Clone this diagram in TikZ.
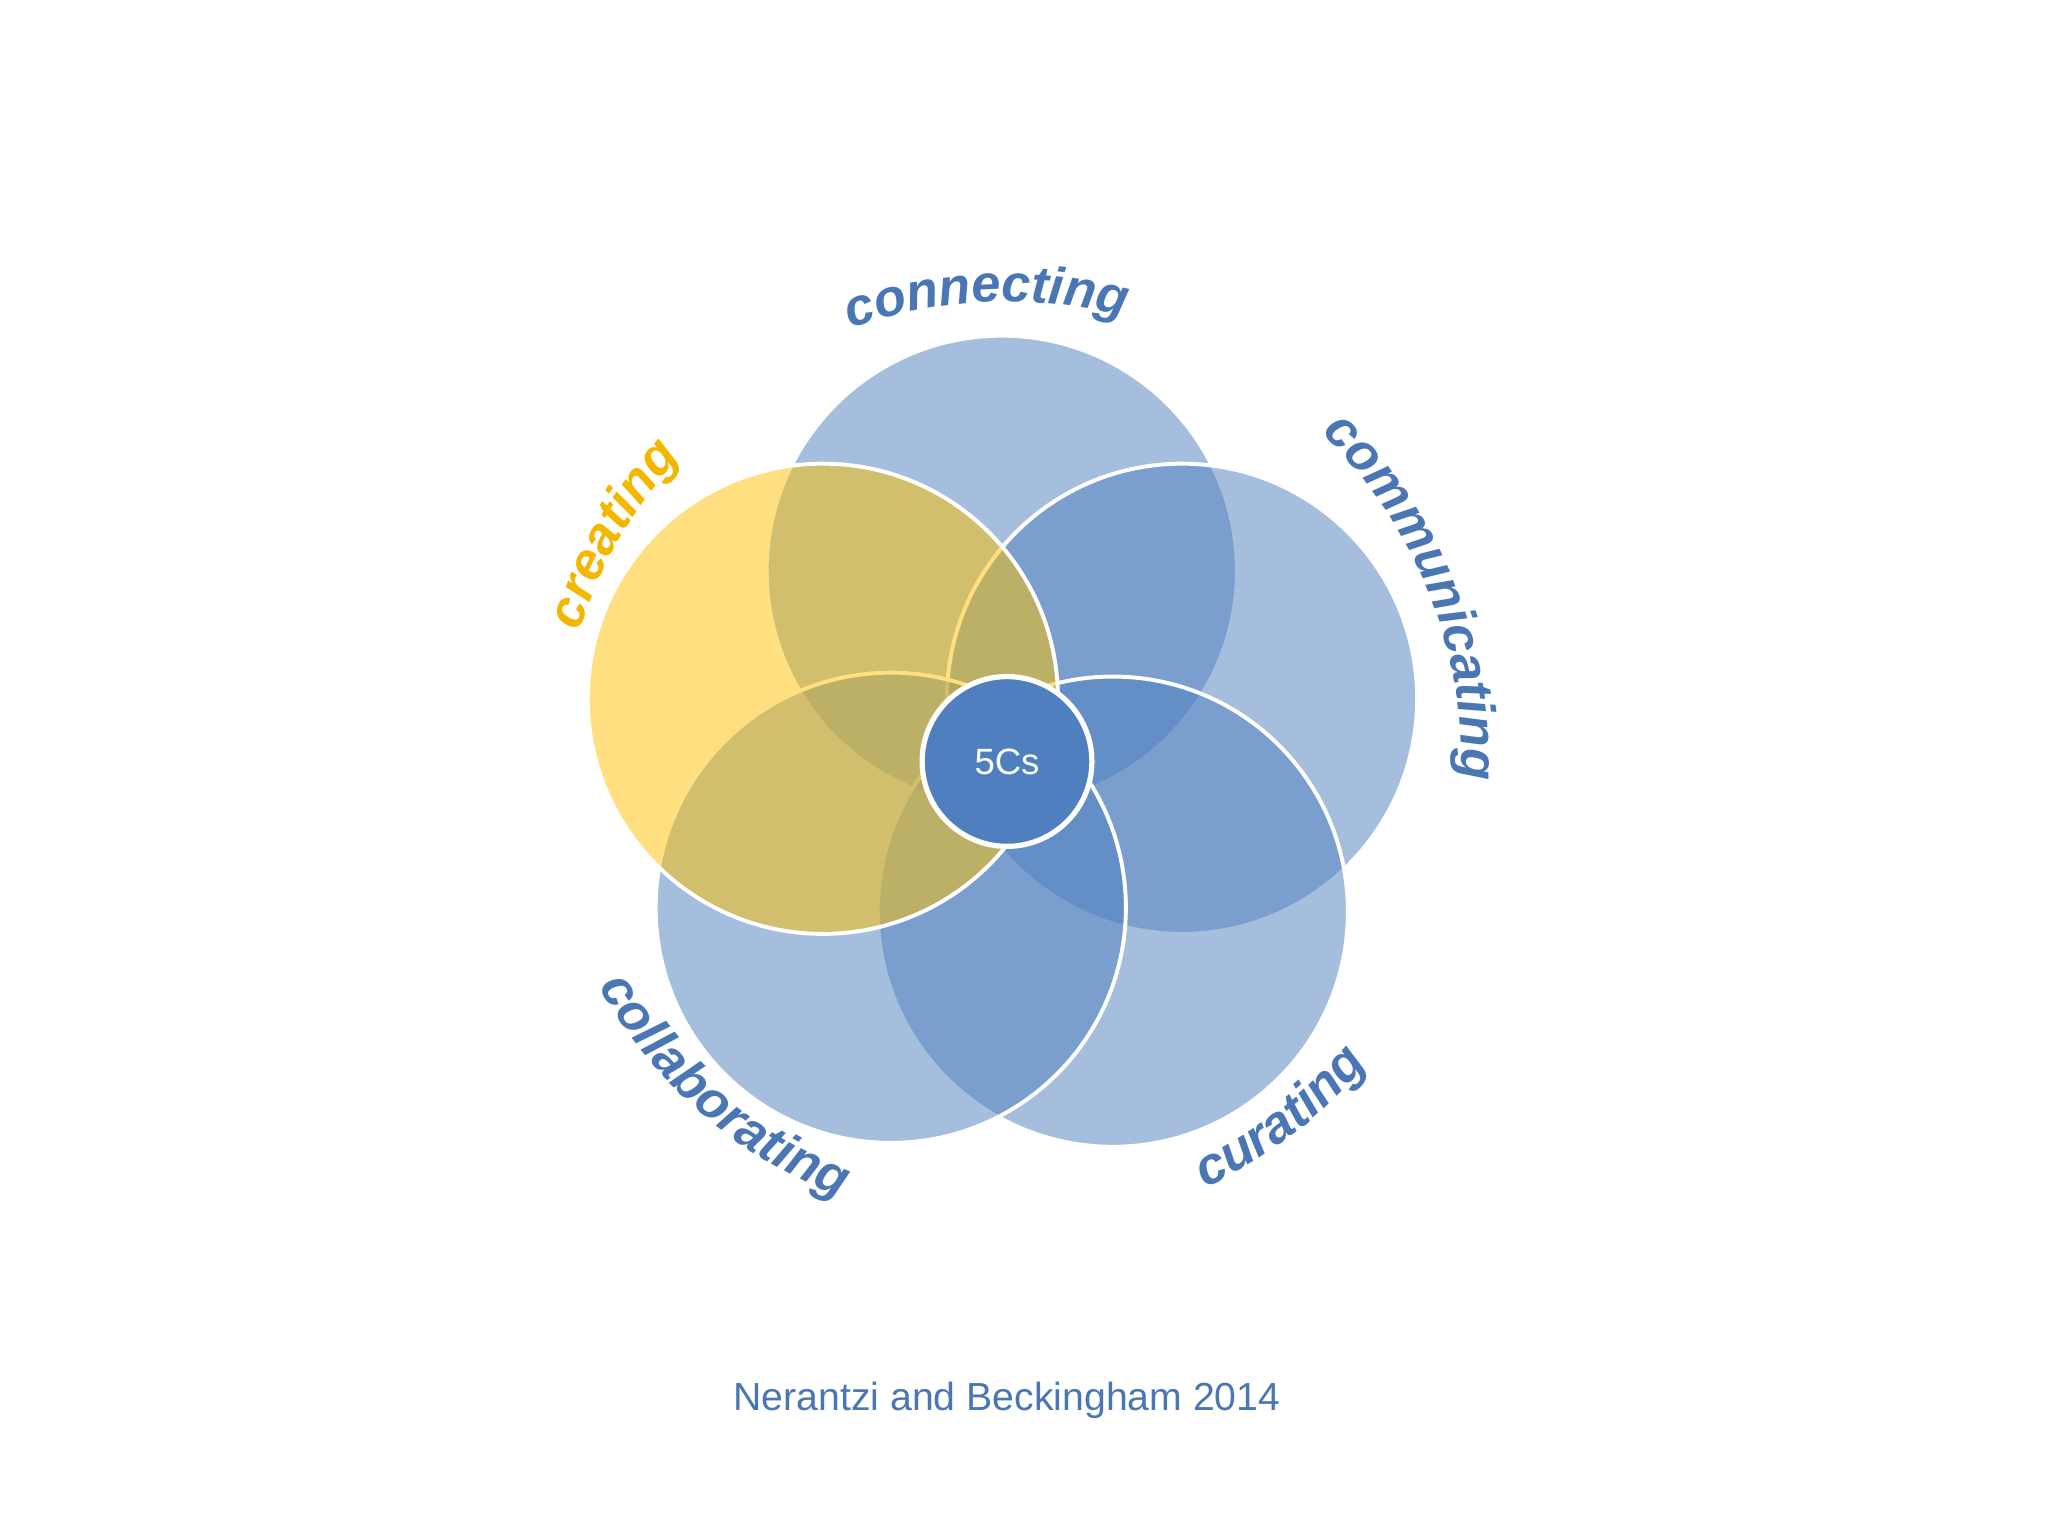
\documentclass[tikz,border=0pt]{standalone}
\usepackage{fontspec}
\setmainfont{Liberation Sans}
\usetikzlibrary{decorations.text}
\definecolor{cblue}{HTML}{4F7FBF}
\definecolor{cyel}{HTML}{FFC000}
\definecolor{tblue}{HTML}{4A77B4}
\definecolor{tyel}{HTML}{F3B700}
\newcommand{\labfont}{\fontsize{40}{40}\selectfont\bfseries\itshape}
\tikzset{
  petal/.style={circle, minimum size=360pt, inner sep=0pt, fill opacity=0.5, draw=white, line width=3pt, draw opacity=1},
  blab/.style={decorate, decoration={text along path, text align=center, text color=tblue}},
}
\begin{document}
\begin{tikzpicture}[x=1pt,y=1pt]
\useasboundingbox[fill=white] (-771,583) rectangle (797,-593);
\node[petal, fill=cblue] (connecting) at (-4,146) {};
\node[petal, fill=cblue] (communicating) at (134,48) {};
\node[petal, fill=cblue] (curating) at (81,-115) {};
\node[petal, fill=cblue] (collaborating) at (-89,-112) {};
\node[petal, fill=cyel] (creating) at (-141,48) {};
\node[circle, minimum size=130pt, inner sep=0pt, fill=cblue, draw=white, line width=4pt, text=white, font=\fontsize{28}{28}\selectfont] (c5) at (0,0) {5Cs};
\path[blab, decoration={text={|\labfont|connecting}}] (115:352) arc (115:70:352);
\path[decorate, decoration={text along path, text align=center, text color=tyel, text={|\labfont|creating}}] (170:342) arc (170:130:342);
\path[blab, decoration={text={|\labfont|communicating}}] (54:348) arc (54:-10:348);
\path[blab, decoration={text={|\labfont|collaborating}}] (200:357) arc (200:258:357);
\path[blab, decoration={text={|\labfont|curating}}] (283:360) arc (283:332:360);
\node[text=tblue, font=\fontsize{30}{30}\selectfont] (cite) at (0,-489) {Nerantzi and Beckingham 2014};
\end{tikzpicture}
\end{document}
